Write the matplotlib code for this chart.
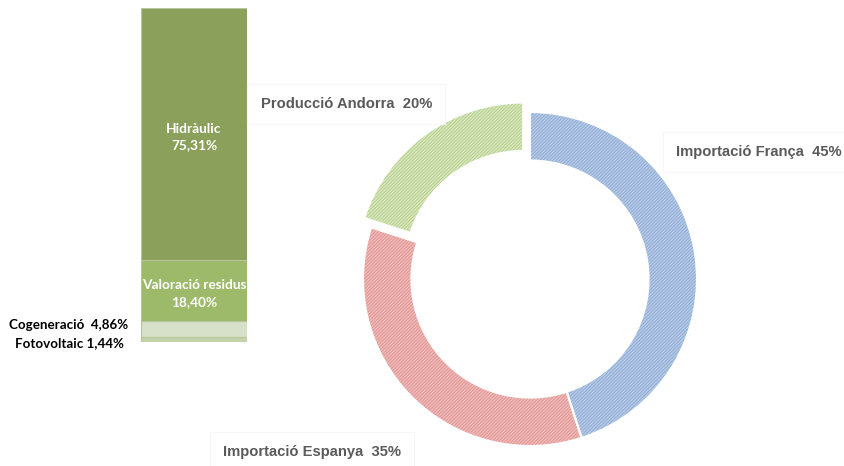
import matplotlib.pyplot as plt
import numpy as np

# bar: local production mix (stacked from bottom)
bar_labels = ["Fotovoltaic", "Cogeneració", "Valoració residus", "Hidràulic"]
bar_values = [1.44, 4.86, 18.40, 75.31]
bar_colors = ["#c4d3ab", "#d7e1c9", "#9db96a", "#8aa05b"]

# donut: energy sources
pie_labels = ["Importació França", "Importació Espanya", "Producció Andorra"]
pie_values = [45, 35, 20]
pie_faces = ["#b3c9e6", "#f0b8b6", "#d8e7bb"]
pie_hatch = ["#8eaad3", "#dc9391", "#b4cb8a"]


def pct(v):
    return f"{v:.2f}".replace(".", ",") + "%"


fig = plt.figure(figsize=(8.44, 4.66), dpi=100)
W, H = 844, 466

# ---- stacked bar ----
axb = fig.add_axes([141 / W, (H - 342) / H, 106 / W, 334 / H])
bottom = 0
for lab, val, col in zip(bar_labels, bar_values, bar_colors):
    axb.bar(0, val, width=1, bottom=bottom, color=col, edgecolor="#b5c79a", linewidth=0.8)
    mid = bottom + val / 2
    if val > 10:
        axb.text(0, mid - 1.0, f"{lab}\n{pct(val)}", ha="center", va="center", color="white",
                 fontsize=9.8, fontweight="bold", family="Lato", linespacing=1.45)
    bottom += val
axb.set_xlim(-0.5, 0.5)
axb.set_ylim(0, sum(bar_values))
axb.axis("off")

# small segments labelled on the left
axb.text(-0.62, bar_values[0] + bar_values[1] / 2 + 1.3, f"{bar_labels[1]}  {pct(bar_values[1])}",
         ha="right", va="center", fontsize=9.6, fontweight="bold", family="Lato", color="black")
axb.text(-0.66, bar_values[0] / 2 - 1.0, f"{bar_labels[0]} {pct(bar_values[0])}",
         ha="right", va="center", fontsize=9.6, fontweight="bold", family="Lato", color="black")

# ---- donut ----
R = 167
size = 2.2 * R
axp = fig.add_axes([(530 - size / 2) / W, (H - 279 - size / 2) / H, size / W, size / H])
explode = [0, 0, 0.07]
plt.rcParams["hatch.linewidth"] = 0.6
wedges, _ = axp.pie(pie_values, colors=pie_faces, startangle=90, counterclock=False,
                    explode=explode, radius=1, wedgeprops=dict(width=0.29, linewidth=0))
for w, hc in zip(wedges, pie_hatch):
    w.set_hatch("//////////")
    w.set_edgecolor(hc)
    w.set_linewidth(0)
axp.pie(pie_values, colors=["none"] * 3, startangle=90, counterclock=False, explode=explode,
        radius=1, wedgeprops=dict(width=0.29, edgecolor="white", linewidth=1.5))
axp.set_xlim(-1.1, 1.1)
axp.set_ylim(-1.1, 1.1)
axp.set_aspect("equal")
axp.axis("off")

label_pos = [(1.37, 0.76), (-1.305, -1.036), (-1.10, 1.048)]
for lab, val, (x, y) in zip(pie_labels, pie_values, label_pos):
    axp.text(x, y, f"{lab}  {val}%", ha="center", va="center", fontsize=10.6,
             fontweight="bold", family="Liberation Sans", color="#5a5a5a", clip_on=False,
             bbox=dict(boxstyle="square,pad=0.9", facecolor="white", edgecolor="#f6f6f6", linewidth=0.8))

fig.savefig("out.png", dpi=100)
